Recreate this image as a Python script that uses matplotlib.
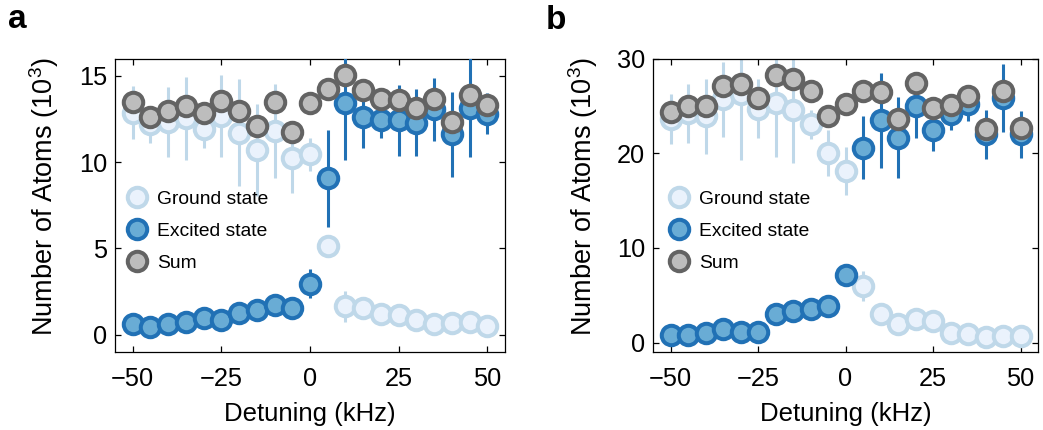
import numpy as np
import matplotlib
matplotlib.use("Agg")
import matplotlib.pyplot as plt

plt.rcParams["font.family"] = ["Liberation Sans", "DejaVu Sans"]
plt.rcParams["mathtext.default"] = "regular"

# Detuning values (kHz)
detuning = [-50, -45, -40, -35, -30, -25, -20, -15, -10, -5, 0,
            5, 10, 15, 20, 25, 30, 35, 40, 45, 50]

# Panel a: atom numbers (10^3)
ground_a = [12.86, 12.19, 12.32, 12.53, 11.90, 12.67, 11.70, 10.69, 11.80, 10.22, 10.45,
            5.16, 1.64, 1.55, 1.22, 1.16, 0.84, 0.61, 0.70, 0.74, 0.51]
ground_a_err = [1.55, 1.06, 2.03, 2.4, 1.06, 2.36, 3.1, 2.66, 2.7, 2.0, 0.97,
                0.6, 0.9, 0.3, 0.3, 0.3, 0.3, 0.3, 0.3, 0.3, 0.3]
excited_a = [0.64, 0.45, 0.64, 0.74, 0.97, 0.88, 1.26, 1.41, 1.70, 1.55, 2.95,
             9.05, 13.43, 12.61, 12.42, 12.42, 12.28, 13.05, 11.61, 13.15, 12.80]
excited_a_err = [0.2, 0.2, 0.2, 0.2, 0.2, 0.2, 0.2, 0.2, 0.25, 0.2, 0.85,
                 2.8, 3.3, 1.78, 1.0, 2.07, 1.93, 1.83, 2.47, 2.86, 1.2]

# Panel b: atom numbers (10^3)
ground_b = [23.57, 24.20, 23.92, 25.69, 26.22, 24.70, 25.34, 24.53, 23.04, 20.04, 18.09,
            6.00, 2.97, 1.94, 2.47, 2.29, 1.02, 0.85, 0.60, 0.67, 0.67]
ground_b_err = [2.64, 3.08, 3.96, 3.96, 6.9, 3.1, 5.7, 5.6, 1.5, 2.46, 2.55,
                1.6, 0.3, 0.3, 0.3, 0.3, 0.3, 0.3, 0.3, 0.3, 0.3]
excited_b = [0.77, 0.77, 1.02, 1.41, 1.06, 1.13, 2.97, 3.35, 3.50, 3.85, 7.14,
             20.57, 23.47, 21.63, 24.98, 22.44, 24.10, 25.16, 21.98, 25.87, 21.98]
excited_b_err = [0.3, 0.3, 0.3, 0.3, 0.3, 0.3, 0.3, 0.3, 0.3, 0.3, 0.4,
                 3.35, 5.0, 4.3, 3.35, 2.2, 1.7, 1.8, 2.6, 3.6, 2.46]

series_labels = ["Ground state", "Excited state", "Sum"]
x_ticks = [-50, -25, 0, 25, 50]
y_ticks_a = [0, 5, 10, 15]
y_ticks_b = [0, 10, 20, 30]

ground_face, ground_edge = "#EAF2FC", "#BFD8E9"
excited_face, excited_edge = "#69ACD5", "#2171B5"
sum_face, sum_edge = "#BDBDBD", "#636363"

MS, MEW, ELW = 14, 2.9, 2.2
TICK_FS, XLABEL_FS, YLABEL_FS, LEG_FS = 18.3, 18.5, 19.5, 13.9


def draw_panel(ax, ground, ground_err, excited, excited_err, ylim, yticks, leg_x):
    x = np.array(detuning)
    g = np.array(ground)
    e = np.array(excited)
    total = g + e

    ax.errorbar(x, g, yerr=ground_err, fmt="none", ecolor=ground_edge,
                elinewidth=ELW, capsize=0, zorder=2)
    hg, = ax.plot(x, g, "o", ms=MS, mfc=ground_face, mec=ground_edge, mew=MEW,
                  zorder=3, label=series_labels[0])
    ax.errorbar(x, e, yerr=excited_err, fmt="none", ecolor=excited_edge,
                elinewidth=ELW, capsize=0, zorder=4)
    he, = ax.plot(x, e, "o", ms=MS, mfc=excited_face, mec=excited_edge, mew=MEW,
                  zorder=5, label=series_labels[1])
    hs, = ax.plot(x, total, "o", ms=MS, mfc=sum_face, mec=sum_edge, mew=MEW,
                  zorder=6, label=series_labels[2])

    ax.set_xlim(-55, 55)
    ax.set_ylim(*ylim)
    ax.set_xticks(x_ticks)
    ax.set_yticks(yticks)
    ax.tick_params(axis="both", which="both", direction="in", top=True, right=True,
                   length=4, width=0.9, labelsize=TICK_FS)
    ax.tick_params(axis="x", pad=11)
    ax.tick_params(axis="y", pad=5.5)
    for s in ax.spines.values():
        s.set_linewidth(0.9)

    ax.set_xlabel("Detuning (kHz)", fontsize=XLABEL_FS)
    ax.set_ylabel("Number of Atoms (10$^{3}$)", fontsize=YLABEL_FS)
    ax.xaxis.set_label_coords(0.5, -0.169)
    ax.yaxis.set_label_coords(-0.138, 0.53)

    ax.legend(handles=[hg, he, hs], loc="upper left", bbox_to_anchor=(leg_x, 0.552),
              frameon=False, fontsize=LEG_FS, handlelength=1.0, handletextpad=0.54,
              labelspacing=0.76, borderpad=0, borderaxespad=0, numpoints=1)


fig = plt.figure(figsize=(10.43, 4.30), dpi=100)
ax_a = fig.add_axes([115 / 1043, 1 - 352 / 430, 390 / 1043, 293.5 / 430])
ax_b = fig.add_axes([653 / 1043, 1 - 352 / 430, 385 / 1043, 293.5 / 430])

draw_panel(ax_a, ground_a, ground_a_err, excited_a, excited_a_err, (-1, 16), y_ticks_a, 0.031)
draw_panel(ax_b, ground_b, ground_b_err, excited_b, excited_b_err, (-1, 30), y_ticks_b, 0.043)

fig.text(8 / 1043, 1 - 28 / 430, "a", fontsize=24, fontweight="bold", va="baseline")
fig.text(546 / 1043, 1 - 29 / 430, "b", fontsize=24, fontweight="bold", va="baseline")

fig.savefig("out.png", dpi=100)
